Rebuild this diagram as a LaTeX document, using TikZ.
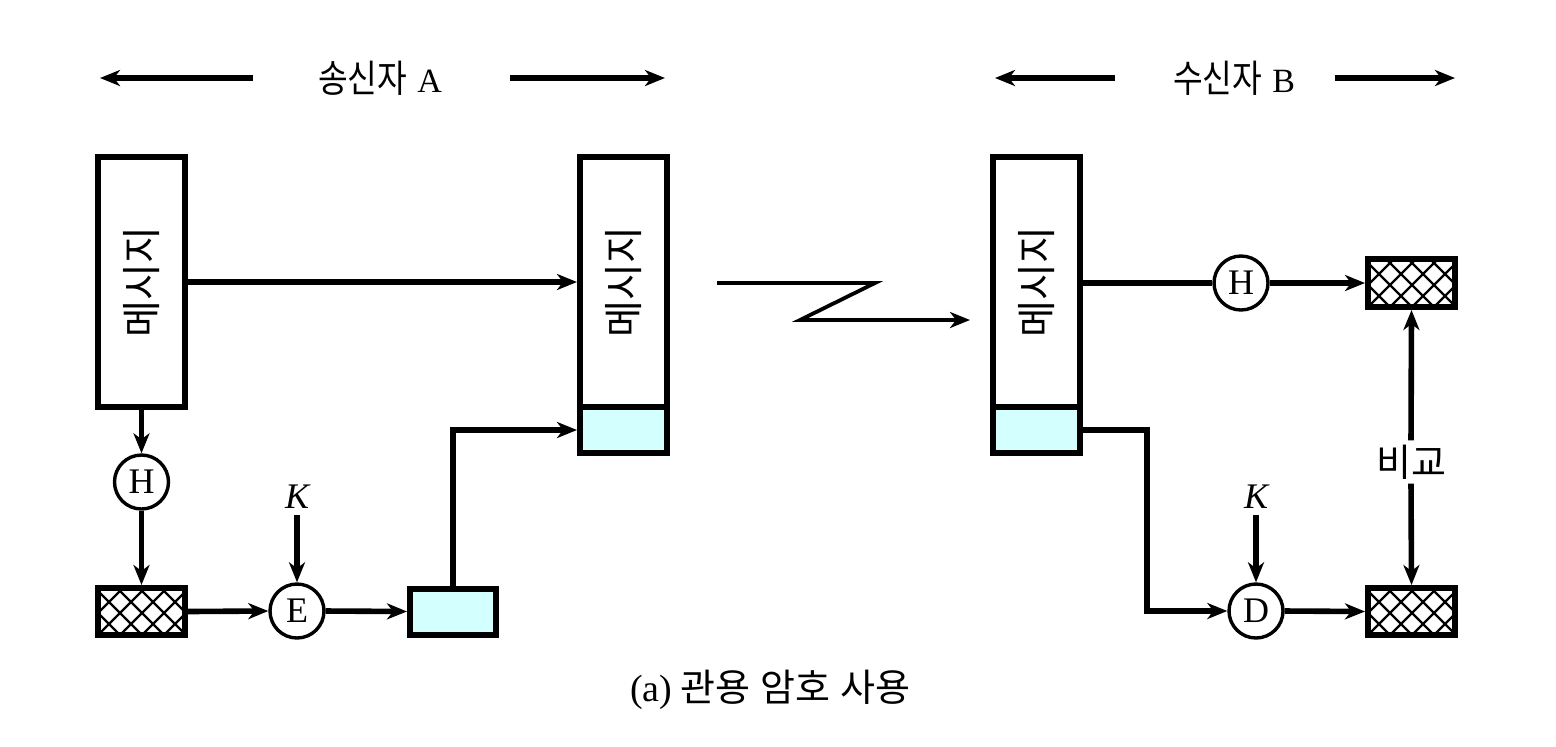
\documentclass[tikz,border=0pt]{standalone}
\usepackage{fontspec}
\setmainfont{Liberation Serif}
\newfontfamily\kr{Noto Sans CJK KR}
\usetikzlibrary{arrows.meta,calc}
\definecolor{lblue}{HTML}{D4FFFF}
\tikzset{
  x=0.5pt,y=-0.5pt,
  msgbox/.style={draw,line width=3pt,minimum width=43.5pt,minimum height=125pt,inner sep=0pt},
  sigbox/.style={draw,line width=3pt,fill=lblue,minimum width=43.5pt,minimum height=23pt,inner sep=0pt},
  hashbox/.style={draw,line width=3pt,minimum width=43.5pt,minimum height=23.5pt,inner sep=0pt,
    path picture={
      \foreach \i in {-4,...,6}{
        \draw[line width=1.1pt] ($(path picture bounding box.south west)+(\i*22,0)$) -- ++(60,-60);
        \draw[line width=1.1pt] ($(path picture bounding box.south west)+(\i*22,0)$) -- ++(-60,-60);
      }}},
  op/.style={draw,circle,line width=1.7pt,minimum size=27pt,inner sep=0pt,font=\fontsize{18}{20}\selectfont},
  arr/.style={line width=2.8pt,-{Stealth[length=10pt,width=8pt,inset=3pt]}},
  ln/.style={line width=2.8pt},
  keylab/.style={font=\fontsize{18}{20}\selectfont\itshape,inner sep=0pt},
  msgtext/.style={rotate=90,font=\kr\fontsize{20}{22}\selectfont},
}
\begin{document}
\begin{tikzpicture}
\useasboundingbox (0,0) rectangle (1556,746);
% top labels
\node (lA) at (380,78) {\scalebox{0.85}[1]{\kr\fontsize{19}{22}\selectfont 송신자}\hspace{5pt}\fontsize{17}{20}\selectfont A};
\node (lB) at (1234,78) {\scalebox{0.85}[1]{\kr\fontsize{19}{22}\selectfont 수신자}\hspace{5pt}\fontsize{17}{20}\selectfont B};
\coordinate (tA1) at (253,78); \coordinate (tA0) at (100,78);
\coordinate (tA2) at (510,78); \coordinate (tA3) at (665,78);
\coordinate (tB1) at (1115,78); \coordinate (tB0) at (995,78);
\coordinate (tB2) at (1335,78); \coordinate (tB3) at (1455,78);
\draw[arr] (tA1) -- (tA0);
\draw[arr] (tA2) -- (tA3);
\draw[arr] (tB1) -- (tB0);
\draw[arr] (tB2) -- (tB3);
% sender
\node[msgbox] (mA) at (141.5,282) {};
\node[msgtext] at (mA) {메시지};
\node[op] (HA) at (141.5,482) {H};
\node[hashbox] (hA) at (141.5,611.5) {};
\node[op] (E) at (297,611) {E};
\node[keylab] (KA) at (297,497) {K};
\node[sigbox,minimum width=43pt] (cA) at (453,611.5) {};
\node[msgbox] (mA2) at (623.5,282) {};
\node[msgtext] at (mA2) {메시지};
\node[sigbox] (sA2) at (623.5,430) {};
\draw[arr] (mA.south) -- (HA.north);
\draw[arr] (HA.south) -- (hA.north);
\draw[arr] (hA.east) -- (E.west);
\path (KA.south) ++(0,6) coordinate (KAs);
\draw[arr] (KAs) -- (E.north);
\draw[arr] (E.east) -- (cA.west);
\draw[arr] (cA.north) |- (sA2.west);
\draw[arr] (mA.east) -- (mA2.west);
% channel
\coordinate (z1) at (717,283); \coordinate (z2) at (875,283);
\coordinate (z3) at (800,320); \coordinate (z4) at (970,320);
\draw[line width=1.9pt,-{Stealth[length=10pt,width=8pt,inset=3pt]},line join=miter] (z1) -- (z2) -- (z3) -- (z4);
% receiver
\node[msgbox] (mB) at (1036.5,282) {};
\node[msgtext] at (mB) {메시지};
\node[sigbox] (sB) at (1036.5,430) {};
\node[op] (HB) at (1241,283) {H};
\node[hashbox,minimum height=24pt] (hB1) at (1411.5,283) {};
\node[op] (D) at (1256,611) {D};
\node[keylab] (KB) at (1256,497) {K};
\node[hashbox] (hB2) at (1411.5,611.5) {};
\node[font=\kr\fontsize{19}{22}\selectfont,inner sep=2pt] (cmp) at (1411,462) {비교};
\draw[ln] (mB.east |- HB) -- (HB.west);
\draw[arr] (HB.east) -- (hB1.west);
\coordinate (c1) at (1147,430);
\draw[arr] (sB.east) -- (c1) |- (D.west);
\path (KB.south) ++(0,6) coordinate (KBs);
\draw[arr] (KBs) -- (D.north);
\draw[arr] (D.east) -- (hB2.west);
\draw[arr] (cmp.north) -- (hB1.south);
\draw[arr] (cmp.south) -- (hB2.north);
% caption
\node (cap) at (770,690) {\fontsize{19}{22}\selectfont (a)\hspace{4pt}{\kr 관용\hspace{5pt}암호\hspace{5pt}사용}};
\end{tikzpicture}
\end{document}
